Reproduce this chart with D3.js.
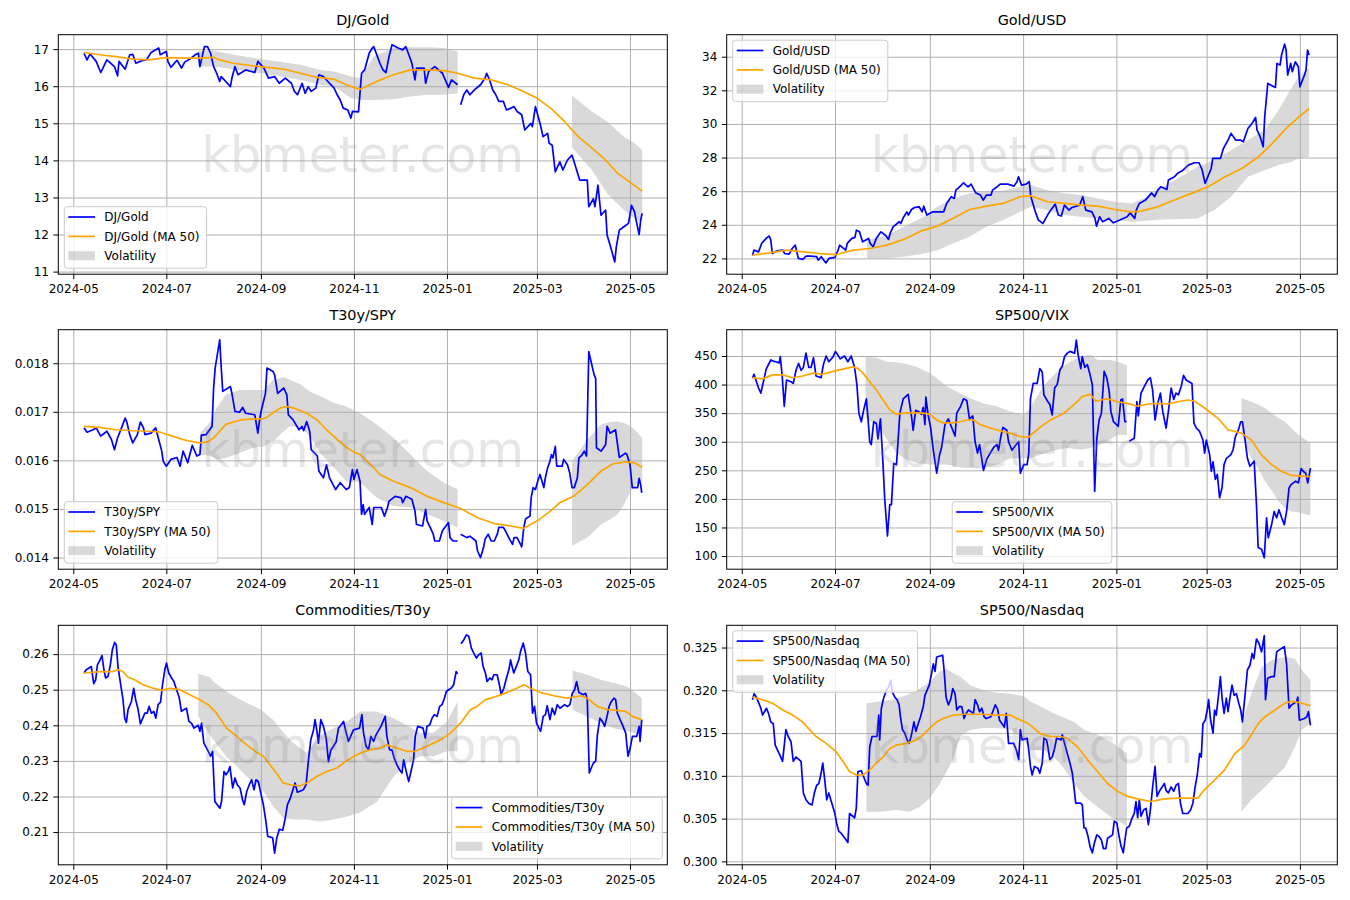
<!DOCTYPE html>
<html>
<head>
<meta charset="utf-8">
<script src="https://cdn.jsdelivr.net/npm/d3@7"></script>
<style>
body { margin: 0; background: #fff; }
svg text { font-family: "DejaVu Sans", sans-serif; }
</style>
</head>
<body>
<svg id="chart" width="1350" height="900"></svg>
<script>
// day offsets are counted from START (first trading day shown)
const START = new Date(2024, 4, 8);
const xTicks = ["2024-05-01", "2024-07-01", "2024-09-01", "2024-11-01", "2025-01-01", "2025-03-01", "2025-05-01"];

// ---- DJ/Gold
const djGold = [[0,16.89],[2,16.71],[4,16.87],[8,16.67],[11,16.37],[15,16.71],[20,16.53],[22,16.28],[23,16.67],[27,16.46],[30,16.85],[32,16.86],[34,16.62],[38,16.69],[41,16.71],[44,16.91],[49,17.03],[50,16.85],[54,16.94],[55,16.67],[57,16.51],[61,16.70],[64,16.49],[66,16.65],[70,16.75],[73,16.85],[75,16.89],[76,16.53],[79,17.07],[81,17.07],[83,16.89],[85,16.53],[87,16.35],[89,16.13],[90,16.26],[94,16.08],[96,15.99],[97,16.22],[99,16.53],[101,16.31],[106,16.44],[112,16.37],[114,16.67],[118,16.49],[121,16.22],[125,16.26],[128,16.08],[132,16.22],[136,16.08],[138,15.86],[140,15.77],[143,16.08],[145,15.81],[147,15.99],[149,15.86],[152,15.95],[154,16.31],[157,16.26],[161,16.08],[164,15.95],[166,15.77],[168,15.63],[170,15.41],[173,15.36],[175,15.14],[176,15.32],[180,15.31],[182,16.35],[184,16.44],[187,16.89],[189,17.03],[190,17.07],[194,16.62],[196,16.44],[198,16.37],[200,16.80],[202,17.12],[206,17.03],[209,16.98],[211,17.07],[213,16.85],[215,16.62],[217,16.17],[218,16.49],[223,16.49],[224,16.08],[226,16.40],[230,16.53],[235,16.35],[239,15.97],[241,16.17],[245,16.04],[246,null],[247,15.50],[249,15.77],[251,15.90],[253,15.77],[256,15.90],[260,16.04],[263,16.22],[264,16.35],[266,16.17],[268,15.90],[270,15.77],[272,15.59],[275,15.59],[277,15.36],[280,15.41],[282,15.45],[284,15.32],[287,15.23],[289,14.82],[293,15.00],[294,14.91],[296,15.45],[299,15.00],[301,14.64],[304,14.73],[305,14.46],[307,14.41],[309,13.69],[312,13.96],[314,13.74],[317,14.01],[320,14.14],[321,14.01],[323,13.74],[325,13.47],[330,13.47],[331,12.75],[334,12.97],[335,12.75],[337,13.33],[339,12.52],[342,12.66],[343,11.98],[345,11.71],[348,11.26],[349,11.66],[351,12.12],[354,12.21],[357,12.30],[359,12.79],[361,12.61],[362,12.39],[364,12.00],[365,12.39],[366,12.57]];
const djGoldMa = [[0,16.91],[10,16.85],[21,16.80],[32,16.73],[43,16.71],[54,16.77],[65,16.76],[76,16.76],[85,16.78],[89,16.71],[98,16.62],[109,16.56],[120,16.51],[131,16.46],[142,16.35],[153,16.24],[164,16.19],[172,16.04],[178,15.95],[181,15.92],[192,16.13],[203,16.31],[214,16.44],[225,16.44],[236,16.42],[245,16.35],[256,16.22],[267,16.17],[278,16.04],[286,15.90],[297,15.68],[306,15.41],[315,15.05],[324,14.64],[332,14.37],[341,14.05],[350,13.65],[359,13.38],[366,13.17]];
const djGoldBand = [[75,16.53,16.95],[85,16.53,16.96],[98,16.46,16.85],[120,16.33,16.71],[142,16.17,16.58],[155,16.04,16.44],[164,15.99,16.40],[175,15.68,16.26],[181,15.63,16.22],[190,15.63,16.80],[203,15.65,17.03],[214,15.72,17.05],[225,15.77,17.05],[236,15.77,17.03],[245,15.81,16.94],[246,null,null],[320,14.35,15.74],[333,13.74,15.32],[343,13.11,15.05],[354,12.66,14.64],[361,12.43,14.46],[366,12.34,14.28]];
const djGoldY = [10.93, 17.39];
const djGoldTicks = [11, 12, 13, 14, 15, 16, 17];

// ---- Gold/USD
const goldUsd = [[0,22.17],[1,22.49],[4,22.39],[6,22.89],[9,23.19],[11,23.33],[12,23.09],[13,22.29],[16,22.45],[20,22.49],[21,22.29],[24,22.25],[26,22.59],[28,22.79],[30,22.00],[33,21.94],[35,22.13],[38,22.13],[42,22.10],[43,21.90],[45,22.10],[48,21.73],[50,22.00],[54,22.06],[56,22.49],[57,22.79],[61,22.49],[62,22.89],[65,23.19],[67,23.25],[68,23.68],[70,23.58],[72,22.99],[76,23.19],[77,22.89],[79,22.69],[81,23.19],[84,23.58],[87,23.38],[89,23.13],[90,23.48],[92,23.88],[96,24.18],[97,24.08],[99,24.48],[101,24.77],[102,24.58],[104,24.91],[106,25.03],[109,25.07],[111,24.77],[112,25.11],[114,24.58],[118,24.77],[122,24.77],[125,24.77],[127,25.27],[130,25.67],[132,25.57],[133,26.06],[136,26.30],[138,26.50],[141,26.26],[143,26.42],[146,25.90],[149,25.77],[151,25.47],[153,25.77],[156,25.77],[157,26.06],[160,26.26],[162,26.42],[167,26.42],[171,26.30],[173,26.56],[174,26.86],[176,26.36],[179,26.42],[181,26.56],[182,25.70],[185,24.77],[187,24.28],[190,24.08],[193,24.58],[195,24.87],[198,25.23],[200,24.58],[202,24.52],[204,25.17],[207,24.87],[209,25.03],[214,25.17],[216,25.67],[218,24.87],[222,24.77],[224,24.38],[225,23.92],[227,24.48],[229,24.18],[233,24.38],[236,24.12],[241,24.32],[245,24.48],[247,24.71],[250,24.38],[251,24.87],[253,25.27],[257,25.47],[261,25.90],[263,25.67],[265,26.06],[267,26.26],[271,26.10],[272,26.66],[276,26.86],[278,27.06],[281,27.21],[285,27.55],[289,27.69],[292,27.69],[294,27.29],[296,26.46],[300,27.35],[301,27.95],[306,27.95],[308,28.54],[311,29.04],[313,29.44],[316,29.04],[319,29.04],[321,28.94],[324,29.73],[327,30.07],[329,30.39],[330,29.63],[332,29.24],[334,28.64],[335,30.43],[337,32.41],[341,32.21],[342,32.17],[343,33.60],[345,33.50],[346,34.10],[348,34.75],[349,34.40],[350,32.91],[352,33.60],[353,33.11],[355,33.70],[357,33.40],[358,32.21],[361,32.91],[362,33.21],[363,34.40],[364,34.10]];
const goldUsdMa = [[0,22.20],[11,22.33],[22,22.49],[33,22.39],[44,22.29],[55,22.23],[66,22.49],[77,22.59],[88,22.79],[99,23.13],[110,23.62],[121,23.92],[131,24.38],[142,24.91],[153,25.11],[164,25.27],[175,25.67],[182,25.72],[193,25.37],[204,25.27],[215,25.17],[226,25.11],[237,24.91],[248,24.77],[254,24.81],[265,25.07],[276,25.47],[287,25.87],[298,26.26],[309,26.86],[320,27.35],[331,28.05],[340,28.84],[348,29.64],[357,30.39],[364,30.92]];
const goldUsdBand = [[75,22.00,23.09],[88,22.00,23.38],[99,22.10,23.88],[112,22.29,24.48],[121,22.49,25.07],[131,22.89,25.57],[142,23.29,25.87],[153,23.88,25.96],[164,24.28,26.02],[175,24.77,26.26],[182,25.07,26.36],[193,24.87,26.06],[204,24.58,25.87],[215,24.48,25.77],[226,24.38,25.57],[237,24.28,25.37],[248,24.18,25.27],[258,24.24,25.67],[269,24.32,26.26],[280,24.34,26.86],[291,24.38,27.45],[302,24.87,27.85],[313,25.67,28.44],[324,26.86,29.04],[335,27.25,29.63],[344,27.55,30.83],[353,27.75,32.21],[357,27.95,32.81],[364,28.05,33.31]];
const goldUsdY = [21.06, 35.31];
const goldUsdTicks = [22, 24, 26, 28, 30, 32, 34];

// ---- T30y/SPY
const t30ySpy = [[0,.01667],[2,.01658],[6,.01663],[8,.01667],[11,.01650],[15,.01660],[18,.01643],[20,.01622],[22,.01646],[25,.01670],[27,.01687],[28,.01680],[30,.01653],[32,.01636],[35,.01653],[37,.01679],[39,.01667],[40,.01653],[44,.01656],[47,.01667],[49,.01643],[51,.01619],[52,.01598],[54,.01588],[57,.01602],[61,.01606],[63,.01588],[65,.01619],[66,.01611],[68,.01595],[71,.01631],[74,.01609],[76,.01612],[77,.01652],[80,.01653],[84,.01670],[85,.01749],[86,.01790],[89,.01848],[90,.01790],[91,.01742],[96,.01752],[97,.01738],[99,.01701],[102,.01699],[104,.01709],[106,.01697],[112,.01694],[114,.01656],[115,.01680],[116,.01699],[119,.01738],[120,.01790],[124,.01783],[125,.01776],[127,.01738],[131,.01749],[133,.01735],[134,.01694],[137,.01684],[141,.01663],[143,.01670],[144,.01661],[146,.01680],[148,.01660],[149,.01622],[153,.01609],[154,.01578],[157,.01564],[159,.01591],[161,.01564],[165,.01540],[168,.01554],[172,.01540],[174,.01544],[176,.01581],[177,.01561],[179,.01581],[181,.01557],[182,.01489],[183,.01509],[184,.01489],[187,.01503],[189,.01468],[190,.01503],[195,.01503],[197,.01485],[199,.01503],[200,.01516],[204,.01526],[208,.01523],[209,.01513],[211,.01526],[215,.01520],[217,.01496],[218,.01468],[222,.01465],[224,.01499],[225,.01475],[227,.01462],[229,.01448],[230,.01434],[233,.01434],[235,.01455],[239,.01472],[240,.01441],[242,.01434],[245,.01434],[246,null],[247,.01448],[251,.01441],[253,.01444],[257,.01434],[258,.01414],[260,.01400],[262,.01421],[263,.01438],[265,.01448],[267,.01434],[269,.01434],[271,.01448],[272,.01462],[275,.01462],[277,.01451],[279,.01438],[281,.01427],[282,.01441],[284,.01441],[287,.01422],[288.4,.01462],[289.5,.01479],[290.6,.01482],[292.4,.01485],[293.2,.01523],[294.5,.01544],[296,.01540],[297.5,.01557],[299,.01571],[301.5,.01544],[302.5,.01564],[304,.01585],[305.5,.01598],[306.5,.01612],[307.5,.01605],[309,.01629],[310,.01588],[313.5,.01588],[314.5,.01602],[317,.01591],[318.5,.01574],[320,.01544],[321.5,.01544],[323.5,.01564],[324.5,.01605],[326.5,.01611],[328,.01619],[329.5,.01609],[331,.01824],[332.5,.01803],[334.5,.01776],[335.5,.01769],[336,.01626],[339,.01619],[342,.01632],[343,.01670],[345,.01656],[348.5,.01663],[351,.01606],[355,.01615],[356,.01612],[358,.01591],[359.5,.01544],[363,.01544],[364,.01563],[365,.01550],[365.7,.01533]];
const t30ySpyMa = [[0,.01670],[10,.01668],[21,.01663],[32,.01661],[43,.01660],[50,.01658],[58,.01650],[67,.01641],[76,.01636],[81,.01638],[85,.01646],[89,.01660],[93,.01674],[98,.01679],[104,.01684],[111,.01685],[118,.01686],[120,.01689],[124,.01698],[129,.01708],[133,.01711],[137,.01708],[142,.01702],[146,.01697],[153,.01683],[159,.01663],[166,.01643],[172,.01627],[177,.01617],[181,.01612],[188,.01591],[194,.01571],[203,.01557],[214,.01544],[225,.01526],[236,.01513],[247,.01501],[258,.01482],[269,.01470],[280,.01465],[288,.01460],[297,.01475],[306,.01496],[312,.01513],[321,.01526],[330,.01550],[339,.01578],[347,.01593],[356,.01597],[361,.01595],[366,.01586]];
const t30ySpyBand = [[76,.01612,.01656],[83,.01609,.01680],[87,.01602,.01708],[93,.01605,.01735],[102,.01615,.01745],[111,.01626,.01745],[118,.01629,.01745],[124,.01639,.01766],[131,.01660,.01771],[135,.01670,.01766],[142,.01667,.01756],[148,.01650,.01742],[155,.01615,.01732],[164,.01585,.01718],[172,.01557,.01711],[181,.01555,.01697],[192,.01523,.01674],[203,.01506,.01646],[214,.01503,.01612],[225,.01489,.01578],[236,.01475,.01554],[245,.01462,.01540],[246,null,null],[320,.01424,.01598],[330,.01441,.01643],[339,.01468,.01674],[345,.01479,.01679],[350,.01489,.01680],[354,.01509,.01677],[358.5,.01537,.01670],[362,.01550,.01660],[366,.01557,.01646]];
const t30ySpyY = [0.01376, 0.01869];
const t30ySpyTicks = [0.014, 0.015, 0.016, 0.017, 0.018];

// ---- SP500/VIX
const sp500Vix = [[0,411],[1,418],[4,394],[5.5,385],[9,427],[12,443],[13.6,441],[15.3,440],[17.5,438],[18.2,449],[19.5,414],[20.8,362],[22.3,408],[25.2,405],[26.7,402],[28.5,425],[30.2,437],[31.8,425],[33.3,430],[35,455],[36.8,430],[38.3,430],[39.9,447],[41.6,415],[44.9,412],[46.4,435],[48.2,450],[49.9,440],[52.6,448],[54.3,458],[55.8,452],[57.4,445],[60.2,450],[62.4,440],[64.6,450],[66.8,430],[68.3,400],[69.6,350],[71.2,335],[72.7,355],[74.5,375],[75.6,340],[76.7,300],[77.7,295],[79.3,335],[81,332],[82.1,305],[83.7,340],[85.4,260],[86.5,200],[88.3,135],[89.8,190],[90.9,190],[92.4,262],[94.2,260],[96.4,350],[98.6,375],[101.8,383],[104,345],[105.1,320],[106.7,355],[109.1,352],[110.6,348],[111.7,360],[112.8,330],[113.4,378],[115,345],[116.5,325],[118.3,285],[119.4,265],[120.5,245],[122.2,275],[123.7,290],[125.9,330],[128.1,340],[130.3,325],[132.5,310],[133.6,350],[135.8,360],[138,375],[140.2,372],[141.9,340],[144.1,345],[145.6,300],[147.2,280],[148.5,295],[151.1,250],[153.3,270],[155.5,280],[157.7,290],[159.9,295],[160.9,285],[162.5,310],[163.8,325],[166.4,320],[167.5,300],[169.7,285],[171.9,293],[174.1,300],[175.2,245],[177.4,260],[179.6,260],[180.7,280],[181.8,375],[183.6,402],[186.2,402],[187.9,428],[189.5,422],[190.6,382],[193.2,370],[194.5,365],[196,347],[197.6,394],[199.3,400],[201.1,426],[202.6,432],[204.1,449],[205.9,455],[207.6,458],[210.7,455],[211.8,478],[213.1,450],[214.7,428],[215.7,449],[217.3,430],[219,435],[220.8,417],[222.3,399],[223.8,213],[225.2,306],[226.7,338],[228.2,350],[230,423],[231.7,412],[233.3,388],[234.4,353],[236.1,335],[239.2,327],[240.9,373],[242,375],[243.6,335],[244.7,335],[245.5,null],[246.4,301],[249.7,306],[251.4,370],[252.3,345],[254.1,385],[256.3,397],[258.5,408],[260.2,412],[261.7,390],[263.3,338],[265,367],[266.8,385],[268.3,353],[270.5,324],[272,353],[273.8,394],[275.5,374],[277,385],[278.6,382],[280.4,397],[281.9,416],[283.6,408],[287.4,402],[288.7,333],[290.2,324],[292.4,318],[294.6,303],[295.7,280],[296.8,303],[299,277],[300.1,248],[301.2,265],[302.7,234],[304,243],[305.5,202],[307.1,220],[308.4,260],[309.9,271],[312.8,277],[314.3,286],[315.8,309],[317.6,319],[319.3,335],[320.4,335],[322,306],[323.7,271],[325.3,257],[328.1,266],[329.6,190],[330.7,115],[332.9,112],[334.7,97],[336.2,167],[337.3,132],[339.5,155],[341.2,178],[342.8,167],[344.3,181],[346.1,167],[347.8,155],[349.3,178],[350.9,219],[352.2,225],[355.2,231],[357,228],[358.8,253],[360.3,248],[361.8,245],[363.1,228],[364,240],[364.9,254]];
const sp500VixMa = [[0,412],[6.6,410],[13.1,417],[19.7,417],[26.3,412],[32.9,415],[39.4,420],[46,418],[52.6,423],[59.1,427],[65.7,431],[69,428],[72.3,420],[76.7,405],[81,391],[85.4,373],[89.8,356],[94.2,348],[98.6,350],[105.1,351],[111.7,350],[116.1,348],[120.5,338],[124.8,333],[131.4,333],[135.8,335],[140.2,338],[144.5,338],[148.9,330],[155.5,324],[162.1,319],[168.6,315],[175.2,309],[180.7,308],[183,314],[188.4,326],[194.9,338],[203.7,350],[210.3,365],[215.7,379],[220.8,383],[224.5,371],[227.8,373],[232.2,375],[238.7,370],[245.3,367],[251.9,362],[258.5,366],[265,367],[271.6,366],[278.2,370],[284.7,373],[289.1,371],[295.7,359],[304.4,341],[311,321],[319.8,315],[326.3,303],[332.9,277],[339.5,260],[346.1,248],[352.6,241],[359.2,240],[364.9,239]];
const sp500VixBand = [[74,341,449],[81,330,447],[87.6,306,440],[94.2,280,439],[100.7,269,436],[107.3,263,431],[116.1,260,420],[120.5,260,411],[127,260,397],[135.8,255,385],[142.4,254,376],[151.1,253,367],[159.9,260,362],[168.6,271,353],[177.4,271,347],[181.8,271,360],[190.6,280,399],[199.3,286,423],[205.9,289,437],[214.7,286,449],[221.2,289,452],[225.6,295,443],[230,298,443],[234.4,305,443],[238.7,312,440],[244.9,312,434],[245.5,null,null],[319.8,312,376],[326.3,271,370],[330.7,254,365],[335.1,231,359],[339.5,215,350],[343.8,196,342],[348.2,184,335],[352.6,178,323],[357,176,312],[364.9,171,298]];
const sp500VixY = [77, 496];
const sp500VixTicks = [100, 150, 200, 250, 300, 350, 400, 450];

// ---- Commodities/T30y
const commT30y = [[0,.2547],[1.5,.2556],[3.3,.2561],[4.8,.2565],[6.4,.2517],[7.7,.2528],[8.8,.2570],[10.3,.2582],[11.8,.2596],[13.1,.2556],[14.2,.2533],[15.8,.2538],[17.3,.2570],[18.6,.2612],[20.1,.2633],[21.2,.2626],[22.3,.2565],[23.9,.2519],[25.6,.2472],[26.7,.2420],[27.8,.2408],[28.9,.2444],[31.1,.2467],[32.6,.2504],[33.9,.2472],[35.5,.2444],[37,.2404],[39.9,.2434],[41.4,.2434],[42.7,.2453],[44.2,.2434],[45.8,.2439],[47.1,.2420],[48.6,.2458],[50.2,.2465],[51.5,.2514],[53,.2556],[54.1,.2575],[55.6,.2547],[57.4,.2533],[58.9,.2524],[60.7,.2500],[62.4,.2479],[63.9,.2439],[65.5,.2444],[67.2,.2448],[68.8,.2411],[70.5,.2406],[72.1,.2392],[74.9,.2400],[76,.2383],[77.1,.2406],[78.6,.2350],[80.4,.2336],[82.1,.2322],[83,.2313],[84.3,.2327],[85.8,.2186],[87.4,.2177],[89.1,.2167],[90.2,.2186],[91.8,.2270],[93.1,.2261],[94.6,.2270],[95.7,.2284],[97.5,.2224],[99,.2252],[100.5,.2233],[102.3,.2224],[104,.2190],[105.1,.2177],[106.7,.2214],[108.4,.2233],[109.9,.2247],[111.5,.2219],[112.8,.2247],[114.3,.2242],[115.9,.2210],[117.6,.2177],[119.1,.2135],[120.5,.2088],[123.7,.2084],[125,.2041],[126.4,.2083],[128.1,.2108],[130.3,.2105],[131.8,.2135],[133.4,.2177],[135.1,.2193],[138.4,.2238],[139.9,.2212],[143.9,.2219],[145.6,.2233],[147.2,.2303],[148.7,.2359],[150.5,.2387],[151.5,.2416],[152.6,.2387],[153.7,.2350],[155.3,.2416],[157,.2397],[158.8,.2364],[160.3,.2298],[161.8,.2329],[165.3,.2353],[166.9,.2392],[170.2,.2411],[171.7,.2383],[173.4,.2355],[176.7,.2387],[180.7,.2392],[182.2,.2430],[183.3,.2378],[185,.2341],[186.6,.2331],[188.1,.2369],[189.9,.2355],[191.6,.2374],[194.7,.2397],[197.5,.2425],[198.6,.2369],[200.4,.2331],[201.9,.2331],[203.4,.2308],[205.2,.2289],[206.9,.2275],[208.5,.2266],[209.6,.2303],[211.3,.2270],[212.9,.2242],[214.4,.2270],[216.1,.2303],[217.2,.2369],[218.8,.2397],[222.3,.2392],[223.8,.2364],[224.9,.2397],[226.7,.2401],[228.2,.2420],[229.7,.2430],[231.5,.2425],[233.2,.2453],[234.8,.2458],[236.3,.2476],[237.6,.2495],[239.1,.2500],[240.7,.2504],[242.4,.2514],[244,.2551],[245,.2545],[246,null],[247.2,.2629],[249,.2640],[250.7,.2654],[252.3,.2650],[254,.2617],[255.6,.2603],[257.3,.2589],[258.8,.2598],[260.4,.2603],[261.7,.2565],[263.2,.2547],[264.3,.2523],[266.1,.2533],[267.6,.2528],[268.7,.2542],[270.9,.2542],[272.6,.2509],[273.5,.2486],[275.3,.2504],[277,.2533],[278.6,.2556],[279.7,.2584],[280.7,.2565],[281.8,.2547],[283.4,.2565],[285.1,.2584],[286.2,.2607],[288,.2631],[289.5,.2603],[291,.2551],[292.8,.2542],[294.1,.2434],[295.4,.2453],[296.7,.2406],[298.3,.2392],[299.4,.2383],[301.1,.2425],[302.6,.2430],[303.7,.2455],[305.5,.2416],[307,.2448],[308.6,.2430],[310.3,.2458],[312.1,.2448],[315.1,.2458],[316.9,.2453],[318.6,.2458],[320.2,.2490],[321.7,.2500],[323,.2523],[324.5,.2492],[327.4,.2486],[328.9,.2490],[330,.2472],[331.3,.2266],[332.6,.2280],[334,.2294],[335.5,.2299],[336.6,.2373],[338.3,.2420],[339.9,.2411],[341.4,.2397],[343.2,.2430],[344.3,.2453],[345.8,.2467],[347.5,.2476],[348.6,.2472],[349.7,.2434],[351.5,.2416],[353,.2402],[355.2,.2378],[356.7,.2313],[358.1,.2336],[359.6,.2369],[362.4,.2369],[364,.2397],[364.6,.2355],[365.7,.2416]];
const commT30yMa = [[0,.2547],[10.3,.2551],[19.1,.2551],[22.3,.2556],[25.6,.2551],[28.9,.2535],[32.2,.2530],[38.8,.2514],[45.3,.2504],[50.8,.2498],[56.3,.2504],[62.9,.2500],[69.4,.2486],[76,.2472],[81.5,.2458],[86.9,.2434],[93.5,.2392],[100.1,.2369],[106.7,.2345],[113.2,.2324],[117.6,.2313],[122,.2289],[126.4,.2264],[130.7,.2238],[135.1,.2233],[141.7,.2230],[146.1,.2238],[152.6,.2256],[159.2,.2270],[165.8,.2280],[172.4,.2301],[178.9,.2317],[181.1,.2322],[187.7,.2331],[194.2,.2336],[198.6,.2345],[205.2,.2336],[211.8,.2327],[217.2,.2327],[224.9,.2341],[233.7,.2359],[240.2,.2378],[246.8,.2406],[253.4,.2444],[257.8,.2453],[263.2,.2472],[268.7,.2479],[275.3,.2489],[281.8,.2500],[288.4,.2514],[292.8,.2504],[299.4,.2492],[308.1,.2483],[316.9,.2476],[325.6,.2483],[330,.2476],[336.6,.2453],[343.2,.2444],[349.7,.2442],[355.2,.2439],[359.6,.2425],[365.7,.2416]];
const commT30yBand = [[74.9,.2425,.2545],[82.6,.2373,.2535],[84.8,.2360,.2523],[93.5,.2310,.2495],[97.9,.2294,.2483],[106.7,.2256,.2463],[115.5,.2228,.2445],[124.2,.2172,.2415],[130.7,.2139,.2380],[137.3,.2135,.2350],[146.1,.2135,.2322],[154.8,.2130,.2373],[163.6,.2135,.2392],[172.4,.2144,.2411],[181.1,.2155,.2439],[192,.2185,.2439],[203,.2256,.2420],[211.8,.2294,.2400],[220.5,.2313,.2378],[229.3,.2313,.2380],[238,.2327,.2410],[245,.2327,.2467],[246,null,null],[320.4,.2444,.2554],[330,.2425,.2542],[338.8,.2406,.2528],[347.5,.2392,.2519],[356.3,.2383,.2509],[365.7,.2373,.2476]];
const commT30yY = [0.2008, 0.2681];
const commT30yTicks = [0.21, 0.22, 0.23, 0.24, 0.25, 0.26];

// ---- SP500/Nasdaq
const sp500Nasdaq = [[0,.3189],[1.1,.3196],[2.6,.3192],[5.5,.3179],[6.6,.3171],[9.2,.3179],[10.5,.3173],[12,.3163],[13.6,.3161],[14.9,.3136],[16.4,.3130],[18,.3124],[19.7,.3117],[21.9,.3154],[23.4,.3146],[25.2,.3140],[26.7,.3117],[28.5,.3122],[31.8,.3117],[33.3,.3080],[35,.3072],[36.8,.3068],[39,.3066],[40.5,.3080],[42,.3089],[43.4,.3091],[44.9,.3103],[46,.3115],[47.3,.3095],[48.6,.3072],[49.9,.3080],[52.6,.3064],[53.9,.3056],[55.2,.3043],[56.5,.3035],[58,.3033],[59.6,.3029],[61.3,.3025],[62.4,.3022],[63.5,.3056],[66.8,.3051],[67.9,.3062],[69,.3105],[71.2,.3106],[72.7,.3099],[74.5,.3091],[75.6,.3089],[76.7,.3134],[78.2,.3146],[81.5,.3146],[82.6,.3171],[83.2,.3142],[84.3,.3179],[85.8,.3191],[87.6,.3200],[89.1,.3204],[90.4,.3212],[91.5,.3198],[93.1,.3192],[94.6,.3189],[95.9,.3183],[96.8,.3169],[98.1,.3154],[99.6,.3150],[101.2,.3142],[102.5,.3138],[104,.3148],[105.6,.3163],[106.9,.3152],[108.4,.3161],[109.9,.3169],[111.7,.3181],[112.8,.3194],[115.6,.3206],[117.2,.3220],[118.3,.3231],[119.4,.3222],[120.5,.3239],[124.4,.3241],[125.3,.3224],[126.6,.3192],[128.1,.3183],[129.6,.3189],[131,.3202],[132.5,.3196],[133.6,.3177],[135.3,.3181],[136.9,.3181],[138.4,.3167],[139.7,.3173],[141.3,.3177],[144.5,.3173],[145.6,.3189],[147.2,.3183],[148.5,.3175],[150,.3179],[151.5,.3169],[152.9,.3167],[155.9,.3169],[158.8,.3183],[160.3,.3178],[161.6,.3165],[164.7,.3157],[166,.3173],[167.5,.3138],[170.8,.3138],[172.6,.3130],[174.1,.3119],[175.2,.3154],[176.3,.3142],[179.6,.3144],[180.7,.3130],[181.8,.3111],[182.9,.3101],[184.4,.3111],[186.6,.3109],[187.9,.3103],[189.5,.3115],[190.6,.3144],[192.3,.3142],[193.2,.3134],[194.5,.3119],[196,.3122],[197.6,.3132],[198.9,.3144],[201.9,.3142],[202.6,.3148],[204.1,.3138],[205.9,.3126],[207.6,.3115],[209.2,.3103],[210.3,.3086],[211.4,.3068],[214.7,.3068],[215.7,.3066],[216.8,.3039],[217.9,.3039],[219.5,.3029],[220.8,.3017],[222.3,.3010],[223.4,.3020],[225.2,.3031],[226.7,.3029],[228.2,.3025],[229.5,.3015],[231.1,.3015],[232.2,.3027],[235.5,.3031],[236.6,.3047],[238.3,.3045],[239.8,.3029],[240.9,.3019],[242.5,.3010],[243.6,.3025],[244.7,.3039],[246.4,.3041],[247.9,.3049],[249.7,.3056],[250.8,.3070],[251.9,.3051],[253,.3072],[254.1,.3053],[255.8,.3060],[257.4,.3062],[258.9,.3043],[260.2,.3060],[261.7,.3087],[263.3,.3111],[264.6,.3076],[266.1,.3082],[269.4,.3091],[270.5,.3083],[272,.3080],[273.8,.3087],[275.5,.3082],[277,.3089],[278.6,.3091],[279.9,.3068],[281.4,.3056],[284.7,.3056],[286.5,.3060],[288,.3068],[289.5,.3087],[290.9,.3101],[292.4,.3126],[293.5,.3122],[294.6,.3161],[296.1,.3165],[297.4,.3177],[298.3,.3189],[299.6,.3165],[301.2,.3150],[302.2,.3177],[303.3,.3171],[304.9,.3196],[306,.3216],[307.1,.3191],[308.4,.3173],[309.9,.3191],[311,.3175],[312.1,.3189],[313.6,.3206],[315,.3194],[316.5,.3196],[318,.3185],[319.3,.3177],[320.4,.3163],[322,.3192],[323.7,.3224],[325.3,.3229],[326.8,.3243],[327.9,.3237],[329.6,.3260],[331.2,.3255],[332.9,.3245],[334.7,.3264],[335.5,.3189],[336.9,.3214],[339.5,.3216],[341.2,.3216],[342.8,.3245],[344.3,.3247],[347.8,.3251],[349.3,.3231],[350.9,.3179],[352.6,.3183],[355.9,.3187],[356.6,.3192],[357.7,.3165],[360.9,.3167],[362.5,.3169],[363.6,.3175],[364.9,.3159]];
const sp500NasdaqMa = [[0,.3192],[6.6,.3189],[13.1,.3185],[19.7,.3177],[26.3,.3171],[32.9,.3163],[37.2,.3154],[41.6,.3146],[48.2,.3138],[54.8,.3128],[59.1,.3117],[63.5,.3105],[67.9,.3101],[72.3,.3101],[76.7,.3107],[81,.3115],[85.4,.3122],[89.8,.3132],[94.2,.3136],[100.7,.3138],[107.3,.3142],[111.7,.3148],[116.1,.3156],[120.5,.3163],[124.8,.3167],[131.4,.3171],[138,.3172],[144.5,.3172],[151.1,.3172],[157.7,.3171],[164.3,.3171],[168.6,.3171],[173,.3167],[179.6,.3162],[181.8,.3159],[188.4,.3149],[194.9,.3146],[201.5,.3146],[205.9,.3144],[212.5,.3134],[219,.3119],[225.6,.3105],[232.2,.3091],[238.7,.3082],[245.3,.3076],[251.9,.3073],[260.6,.3070],[269.4,.3073],[278.2,.3074],[291.3,.3074],[295.7,.3084],[302.2,.3095],[308.8,.3107],[315.4,.3126],[322,.3136],[326.3,.3148],[330.7,.3161],[335.1,.3169],[341.7,.3177],[348.2,.3185],[352.6,.3187],[357,.3186],[364.9,.3182]];
const sp500NasdaqBand = [[74.5,.3058,.3185],[83.2,.3058,.3187],[94.2,.3060,.3190],[102.9,.3058,.3196],[109.5,.3064,.3202],[116.1,.3074,.3210],[122.6,.3091,.3222],[127,.3105,.3225],[131.4,.3120,.3220],[135.8,.3146,.3216],[142.4,.3154,.3206],[151.1,.3156,.3200],[159.9,.3156,.3197],[168.6,.3154,.3196],[177.4,.3142,.3193],[181.8,.3130,.3187],[190.6,.3130,.3179],[197.1,.3122,.3173],[203.7,.3109,.3168],[210.3,.3091,.3163],[216.8,.3076,.3154],[225.6,.3064,.3148],[234.4,.3052,.3140],[244.9,.3041,.3126],[245.5,null,null],[319.8,.3058,.3161],[326.3,.3072,.3196],[332.9,.3083,.3227],[339.5,.3095,.3235],[348.2,.3110,.3239],[354.8,.3134,.3237],[359.2,.3154,.3224],[364.9,.3161,.3212]];
const sp500NasdaqY = [0.2996, 0.3276];
const sp500NasdaqTicks = [0.300, 0.305, 0.310, 0.315, 0.320, 0.325];

const panels = [
  {name: "DJ/Gold", line: djGold, ma: djGoldMa, band: djGoldBand, yDomain: djGoldY, yTicks: djGoldTicks, fmt: "d", legend: "lower left", col: 0, row: 0},
  {name: "Gold/USD", line: goldUsd, ma: goldUsdMa, band: goldUsdBand, yDomain: goldUsdY, yTicks: goldUsdTicks, fmt: "d", legend: "upper left", col: 1, row: 0},
  {name: "T30y/SPY", line: t30ySpy, ma: t30ySpyMa, band: t30ySpyBand, yDomain: t30ySpyY, yTicks: t30ySpyTicks, fmt: ".3f", legend: "lower left", col: 0, row: 1},
  {name: "SP500/VIX", line: sp500Vix, ma: sp500VixMa, band: sp500VixBand, yDomain: sp500VixY, yTicks: sp500VixTicks, fmt: "d", legend: "lower center", col: 1, row: 1},
  {name: "Commodities/T30y", line: commT30y, ma: commT30yMa, band: commT30yBand, yDomain: commT30yY, yTicks: commT30yTicks, fmt: ".2f", legend: "lower right", col: 0, row: 2},
  {name: "SP500/Nasdaq", line: sp500Nasdaq, ma: sp500NasdaqMa, band: sp500NasdaqBand, yDomain: sp500NasdaqY, yTicks: sp500NasdaqTicks, fmt: ".3f", legend: "upper left", col: 1, row: 2}
];

// layout (matplotlib 3x2 subplots)
const colLeft = [58.3, 726.7], colWidth = [609, 610.6];
const rowTop = [34.7, 329.7, 625.3], rowHeight = 239.5;
const xDomain = [new Date(2024, 3, 21, 4), new Date(2025, 4, 25, 11)];
const toDate = d => new Date(START.getTime() + d * 864e5);
const parseDay = d3.timeParse("%Y-%m-%d");

const svg = d3.select("#chart");

panels.forEach((p, i) => {
  const left = colLeft[p.col], top = rowTop[p.row], w = colWidth[p.col], h = rowHeight;
  const x = d3.scaleTime().domain(xDomain).range([left, left + w]);
  const y = d3.scaleLinear().domain(p.yDomain).range([top + h, top]);
  const g = svg.append("g");

  g.append("clipPath").attr("id", "clip" + i)
    .append("rect").attr("x", left).attr("y", top).attr("width", w).attr("height", h);

  // volatility band (below grid, like matplotlib)
  const area = d3.area()
    .defined(d => d[1] != null)
    .x(d => x(toDate(d[0])))
    .y0(d => y(d[1]))
    .y1(d => y(d[2]));
  g.append("path").datum(p.band)
    .attr("clip-path", "url(#clip" + i + ")")
    .attr("d", area)
    .attr("fill", "gray").attr("fill-opacity", 0.3);

  // grid
  const xt = xTicks.map(parseDay);
  g.append("g").attr("transform", `translate(0,${top + h})`)
    .call(d3.axisBottom(x).tickValues(xt).tickSize(-h).tickFormat(""))
    .call(s => s.select(".domain").remove())
    .selectAll("line").attr("stroke", "#b0b0b0").attr("stroke-width", 1);
  g.append("g").attr("transform", `translate(${left},0)`)
    .call(d3.axisLeft(y).tickValues(p.yTicks).tickSize(-w).tickFormat(""))
    .call(s => s.select(".domain").remove())
    .selectAll("line").attr("stroke", "#b0b0b0").attr("stroke-width", 1);

  const line = d3.line()
    .defined(d => d[1] != null)
    .x(d => x(toDate(d[0])))
    .y(d => y(d[1]));
  g.append("path").datum(p.line)
    .attr("clip-path", "url(#clip" + i + ")")
    .attr("d", line).attr("fill", "none")
    .attr("stroke", "blue").attr("stroke-width", 1.7).attr("stroke-linejoin", "round");
  g.append("path").datum(p.ma)
    .attr("clip-path", "url(#clip" + i + ")")
    .attr("d", line).attr("fill", "none")
    .attr("stroke", "orange").attr("stroke-width", 1.7).attr("stroke-linejoin", "round");

  // watermark
  g.append("text")
    .attr("x", left + w / 2).attr("y", top + h / 2 + 17.5)
    .attr("text-anchor", "middle")
    .attr("font-size", 49)
    .attr("fill", "gray").attr("fill-opacity", 0.2)
    .text("kbmeter.com");

  // spines
  g.append("rect").attr("x", left).attr("y", top).attr("width", w).attr("height", h)
    .attr("fill", "none").attr("stroke", "black").attr("stroke-width", 1);

  // axes
  const xa = g.append("g").attr("transform", `translate(0,${top + h})`)
    .call(d3.axisBottom(x).tickValues(xt).tickFormat(d3.timeFormat("%Y-%m")).tickSize(4.9).tickPadding(5.6));
  const ya = g.append("g").attr("transform", `translate(${left},0)`)
    .call(d3.axisLeft(y).tickValues(p.yTicks).tickFormat(d3.format(p.fmt)).tickSize(4.9).tickPadding(4.4));
  [xa, ya].forEach(a => {
    a.select(".domain").remove();
    a.attr("font-family", null).attr("font-size", null);
    a.selectAll("text").attr("font-size", 12).attr("fill", "black");
    a.selectAll("line").attr("stroke", "black").attr("stroke-width", 1);
  });

  // title
  g.append("text")
    .attr("x", left + w / 2).attr("y", top - 10)
    .attr("text-anchor", "middle").attr("font-size", 14.4)
    .text(p.name);

  // legend
  const labels = [p.name, p.name + " (MA 50)", "Volatility"];
  const lg = g.append("g");
  const box = lg.append("rect");
  const texts = lg.selectAll("text.lab").data(labels).join("text")
    .attr("class", "lab").attr("font-size", 12).attr("dy", "0.35em").text(d => d);
  const tw = d3.max(texts.nodes(), n => n.getComputedTextLength());
  const bw = 40 + tw + 7, bh = 61.5;
  let bx = left + 6, by = top + h - 6 - bh;
  if (p.legend.includes("upper")) by = top + 5.5;
  if (p.legend.includes("right")) bx = left + w - 5 - bw;
  if (p.legend.includes("center")) bx = left + w / 2 - bw / 2;
  box.attr("x", bx).attr("y", by).attr("width", bw).attr("height", bh)
    .attr("rx", 3).attr("fill", "white").attr("fill-opacity", 0.8)
    .attr("stroke", "#cccccc").attr("stroke-width", 1);
  const rowY = [10.3, 29.7, 49];
  texts.attr("x", bx + 40).attr("y", (d, k) => by + rowY[k]);
  lg.append("line").attr("x1", bx + 4).attr("x2", bx + 30.7)
    .attr("y1", by + rowY[0]).attr("y2", by + rowY[0])
    .attr("stroke", "blue").attr("stroke-width", 1.7);
  lg.append("line").attr("x1", bx + 4).attr("x2", bx + 30.7)
    .attr("y1", by + rowY[1]).attr("y2", by + rowY[1])
    .attr("stroke", "orange").attr("stroke-width", 1.7);
  lg.append("rect").attr("x", bx + 4).attr("y", by + rowY[2] - 4.5)
    .attr("width", 26.7).attr("height", 9)
    .attr("fill", "gray").attr("fill-opacity", 0.3);
});
</script>
</body>
</html>
